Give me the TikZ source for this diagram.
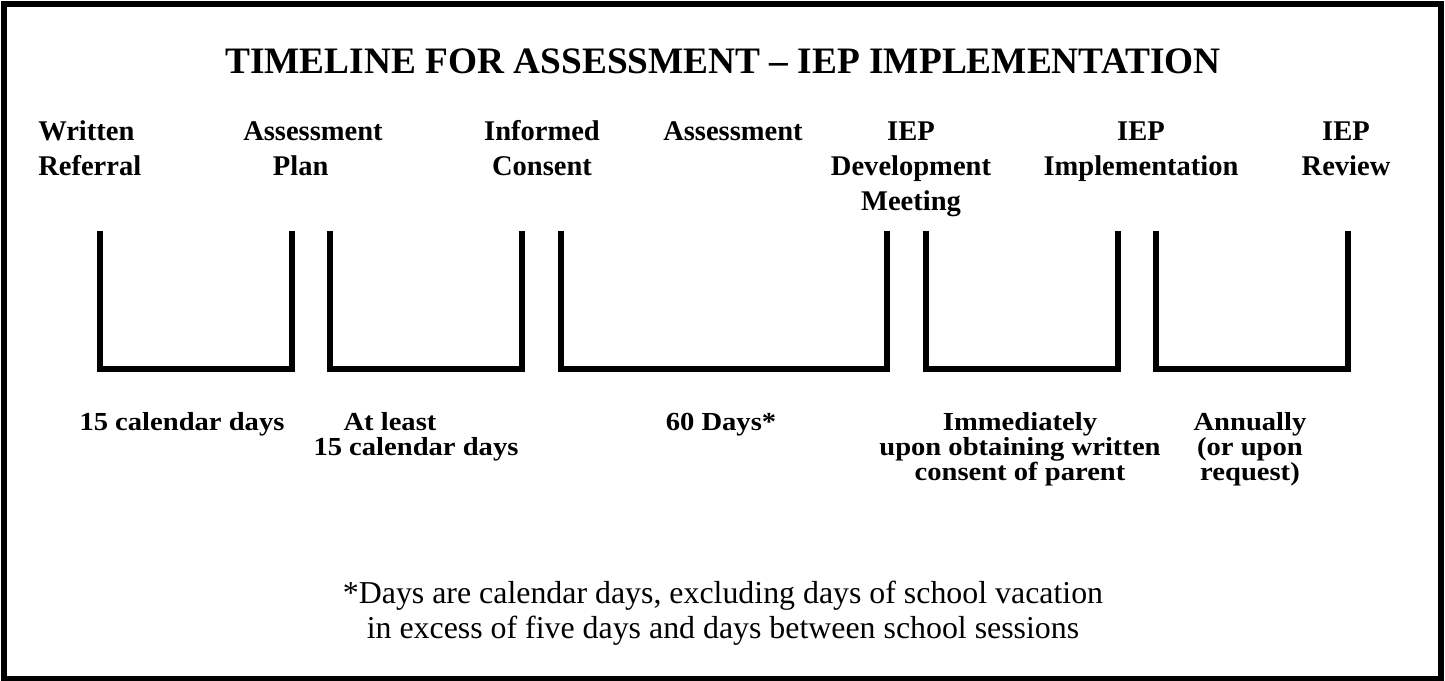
\documentclass[tikz,border=0pt]{standalone}
\usepackage{fontspec}
\setmainfont{Liberation Serif}
\newfontfamily\periodfont[FakeStretch=1.1]{Liberation Serif}
% invisible rules that fix the height of the first line of a label
\newcommand{\stagestrut}{\rule{0pt}{18.375pt}}
\newcommand{\periodstrut}{\rule{0pt}{15pt}}

\begin{document}
\begin{tikzpicture}[x=0.75pt,y=-0.75pt,
    stage/.style={anchor=north,inner sep=0pt,align=center,
        font=\fontsize{21.4}{26.25}\selectfont\bfseries},
    period/.style={anchor=north,inner sep=0pt,align=center,
        font=\periodfont\fontsize{19.5}{18.75}\selectfont\bfseries},
    bracket/.style={line width=4.5pt}]
    \useasboundingbox (0,0) rectangle (1445,681);
    \draw[line width=4.5pt] (4,4) rectangle (1441,678.5);
    \node[anchor=north,inner sep=0pt,font=\fontsize{28}{33}\selectfont\bfseries] (title) at (723,48.5) {TIMELINE FOR ASSESSMENT \textendash{} IEP IMPLEMENTATION};
    % stages along the top
    \node[stage,anchor=north west,align=left] (referral) at (38,115.5) {\stagestrut Written\\Referral};
    \node[stage,anchor=north west,align=left] (plan) at (243,115.5) {\stagestrut Assessment\\\hspace*{1.04em}Plan};
    \node[stage] (consent) at (542,115.5) {\stagestrut Informed\\Consent};
    \node[stage] (assessment) at (733,115.5) {\stagestrut Assessment};
    \node[stage] (meeting) at (911,115.5) {\stagestrut IEP\\Development\\Meeting};
    \node[stage] (implementation) at (1141,115.5) {\stagestrut IEP\\Implementation};
    \node[stage] (review) at (1346,115.5) {\stagestrut IEP\\Review};
    % brackets
    \foreach \l/\r in {100/292, 330/522, 561/887, 926/1118, 1156/1348}
        \draw[bracket] (\l,231) -- (\l,368.5) -- (\r,368.5) -- (\r,231);
    % time between the stages
    \node[period] (days15) at (182,410) {\periodstrut 15 calendar days};
    \node[period] (atleast) at (416,410) {\periodstrut At least\hspace*{2em}\\15 calendar days};
    \node[period] (days60) at (721,410) {\periodstrut 60 Days*};
    \node[period] (immediately) at (1020,410) {\periodstrut Immediately\\upon obtaining written\\consent of parent};
    \node[period] (annually) at (1250,410) {\periodstrut Annually\\(or upon\\request)};
    % footnote
    \node[anchor=north,inner sep=0pt,align=center,font=\fontsize{23.9}{26.25}\selectfont] (note) at (723,578.5)
        {\stagestrut*Days are calendar days, excluding days of school vacation\\in excess of five days and days between school sessions};
\end{tikzpicture}
\end{document}
